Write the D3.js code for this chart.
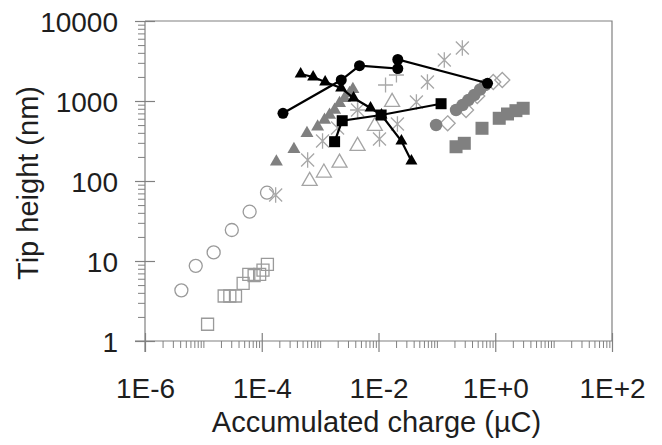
<!DOCTYPE html>
<html><head><meta charset="utf-8">
<script src="https://cdn.jsdelivr.net/npm/d3@7"></script>
<style>html,body{margin:0;padding:0;background:#fff;}svg{display:block;font-family:"Liberation Sans",Arial,sans-serif;}</style>
</head><body>
<svg id="chart" width="662" height="445"></svg>
<script>
// ---- data ----
const xTickValues = [1e-6, 1e-4, 1e-2, 1e0, 1e2];
const xTickLabels = ["1E-6", "1E-4", "1E-2", "1E+0", "1E+2"];
const yTickValues = [1, 10, 100, 1000, 10000];
const yTickLabels = ["1", "10", "100", "1000", "10000"];

const openCircleX = [4.2e-6, 7.4e-6, 1.5e-5, 3.07e-5, 6.2e-5, 1.23e-4];
const openCircleY = [4.3, 8.7, 12.8, 24.4, 41.3, 71.4];

const openSquareX = [1.18e-5, 2.27e-5, 2.84e-5, 3.55e-5, 4.8e-5, 6.0e-5, 7.4e-5, 9.2e-5, 1.05e-4, 1.25e-4];
const openSquareY = [1.62, 3.65, 3.65, 3.65, 5.26, 6.8, 6.55, 6.8, 7.7, 9.1];

const greyTriX = [1.78e-4, 3.56e-4, 5.95e-4, 9.06e-4, 1.19e-3, 1.45e-3, 1.77e-3, 2.15e-3, 2.62e-3, 3.19e-3, 3.64e-3];
const greyTriY = [174, 249, 395, 477, 579, 668, 772, 936, 1081, 1248, 1400];

const openTriX = [6.62e-4, 1.16e-3, 2.15e-3, 4.38e-3, 8.65e-3, 0.0171];
const openTriY = [100, 127, 169, 274, 487, 972];

const starX = [1.73e-4, 6.11e-4, 1.10e-3, 1.99e-3, 4.38e-3, 0.0104, 0.0211, 0.0446, 0.0689, 0.134, 0.273];
const starY = [66.8, 183, 316, 460, 772, 335, 516, 972, 1728, 3254, 4597];

const plusX = [4.38e-3, 0.0132, 0.0203];
const plusY = [772, 1585, 2113];

const greyCircleX = [0.0969, 0.213, 0.276, 0.348, 0.438, 0.55, 0.675];
const greyCircleY = [501, 772, 891, 1029, 1189, 1393, 1585];

const diamondX = [0.153, 0.316, 0.492, 0.925, 1.32];
const diamondY = [526, 772, 1155, 1728, 1830];

const greySquareX = [0.213, 0.295, 0.593, 1.17, 1.62, 2.26, 3.01];
const greySquareY = [268, 296, 456, 608, 688, 757, 811];

const blackCircleX = [2.31e-4, 2.30e-3, 4.73e-3, 0.0214, 0.0214, 0.738];
const blackCircleY = [702, 1830, 2763, 2547, 3303, 1664];

const blackTriX = [4.64e-4, 7.59e-4, 1.22e-3, 2.29e-3, 3.74e-3, 7.3e-3, 0.01125, 0.0247, 0.0366];
const blackTriY = [2175, 1995, 1728, 1454, 1090, 818, 668, 316, 178];

const blackSquareX = [1.77e-3, 2.39e-3, 0.0111, 0.118];
const blackSquareY = [310, 567, 668, 925];

// ---- layout ----
const svg = d3.select("#chart");
const pL = 145, pR = 612, pT = 21, pB = 341;
const x = d3.scaleLog().domain([1e-6, 1e2]).range([pL, pR]);
const y = d3.scaleLog().domain([1, 1e4]).range([pB, pT]);
const axisColor = "#808080";
const textColor = "#1e1e1e";

// frame (top & right)
svg.append("path")
  .attr("d", `M${pL},${pT}H${pR}V${pB}`)
  .attr("fill", "none").attr("stroke", axisColor).attr("stroke-width", 1.2);

// minor ticks
const xMinor = [];
for (let e = -6; e < 2; e++) for (let m = 1; m <= 9; m++) {
  const v = m * Math.pow(10, e);
  if (!(m === 1 && e % 2 === 0)) xMinor.push(v);
}
const yMinor = [];
for (let e = 0; e < 4; e++) for (let m = 2; m <= 9; m++) yMinor.push(m * Math.pow(10, e));

const gxMinor = svg.append("g").attr("transform", `translate(0,${pB})`)
  .call(d3.axisBottom(x).tickValues(xMinor).tickSize(7).tickFormat(""));
const gyMinor = svg.append("g").attr("transform", `translate(${pL},0)`)
  .call(d3.axisLeft(y).tickValues(yMinor).tickSize(7).tickFormat(""));
[gxMinor, gyMinor].forEach(g => {
  g.select(".domain").remove();
  g.selectAll("line").attr("stroke", axisColor).attr("stroke-width", 1);
});

// major axes
const gx = svg.append("g").attr("transform", `translate(0,${pB})`)
  .call(d3.axisBottom(x).tickValues(xTickValues).tickSizeInner(11).tickSizeOuter(0)
    .tickFormat((d, i) => xTickLabels[i]));
gx.select(".domain").attr("stroke", axisColor).attr("stroke-width", 1.2).attr("d", `M${pL-10},0H${pR}`);
gx.selectAll(".tick line").attr("stroke", axisColor).attr("stroke-width", 1.2).attr("y1", -8);
gx.selectAll(".tick text").attr("y", 57).attr("dy", "0").attr("fill", textColor)
  .style("font-size", "28px").style("font-family", "'Liberation Sans', Arial, sans-serif");

const gy = svg.append("g").attr("transform", `translate(${pL},0)`)
  .call(d3.axisLeft(y).tickValues(yTickValues).tickSizeInner(10).tickSizeOuter(0)
    .tickFormat((d, i) => yTickLabels[i]));
gy.select(".domain").attr("stroke", axisColor).attr("stroke-width", 1.2).attr("d", `M0,${pT}V${pB+11}`);
gy.selectAll(".tick line").attr("stroke", axisColor).attr("stroke-width", 1.2).attr("x1", 10);
gy.selectAll(".tick text").attr("x", -27).attr("dy", "0.36em").attr("fill", textColor)
  .style("font-size", "28px").style("font-family", "'Liberation Sans', Arial, sans-serif");

// axis titles
svg.append("text").attr("x", (pL + pR) / 2 - 2).attr("y", 432)
  .attr("text-anchor", "middle").attr("fill", textColor)
  .style("font-size", "29px").text("Accumulated charge (µC)");
svg.append("text").attr("transform", `translate(38,${(pT + pB) / 2 + 2}) rotate(-90)`)
  .attr("text-anchor", "middle").attr("fill", textColor)
  .style("font-size", "29px").text("Tip height (nm)");

// ---- symbols ----
const starSym = { draw(ctx, size) { const r = Math.sqrt(size) / 2;
  ctx.moveTo(-r, -r); ctx.lineTo(r, r); ctx.moveTo(-r, r); ctx.lineTo(r, -r);
  ctx.moveTo(0, -r * 1.2); ctx.lineTo(0, r * 1.2); } };
const plusSym = { draw(ctx, size) { const r = Math.sqrt(size) / 2;
  ctx.moveTo(-r, 0); ctx.lineTo(r, 0); ctx.moveTo(0, -r); ctx.lineTo(0, r); } };
const squareSym = { draw(ctx, size) { const r = Math.sqrt(size) / 2;
  ctx.rect(-r, -r, 2 * r, 2 * r); } };
const diamondSym = { draw(ctx, size) { const r = Math.sqrt(size) / 2;
  ctx.moveTo(0, -r); ctx.lineTo(r, 0); ctx.lineTo(0, r); ctx.lineTo(-r, 0); ctx.closePath(); } };
const triSym = { draw(ctx, size) { const s = Math.sqrt(size); const h = s * Math.sqrt(3) / 2;
  ctx.moveTo(0, -2 * h / 3); ctx.lineTo(s / 2, h / 3); ctx.lineTo(-s / 2, h / 3); ctx.closePath(); } };
const circSym = { draw(ctx, size) { const r = Math.sqrt(size) / 2;
  ctx.moveTo(r, 0); ctx.arc(0, 0, r, 0, 2 * Math.PI); } };

const zip = (xs, ys) => xs.map((v, i) => [v, ys[i]]);
const series = [
  { data: zip(openCircleX, openCircleY), sym: circSym, size: 13, fill: "none", stroke: "#9a9a9a", sw: 1.3 },
  { data: zip(openSquareX, openSquareY), sym: squareSym, size: 12, fill: "none", stroke: "#9a9a9a", sw: 1.3 },
  { data: zip(starX, starY), sym: starSym, size: 13, fill: "none", stroke: "#a8a8a8", sw: 1.3 },
  { data: zip(plusX, plusY), sym: plusSym, size: 15, fill: "none", stroke: "#a8a8a8", sw: 1.3 },
  { data: zip(openTriX, openTriY), sym: triSym, size: 15, fill: "none", stroke: "#a4a4a4", sw: 1.3 },
  { data: zip(greyTriX, greyTriY), sym: triSym, size: 13, fill: "#808080", stroke: "none", sw: 0 },
  { data: zip(diamondX, diamondY), sym: diamondSym, size: 15, fill: "none", stroke: "#a4a4a4", sw: 1.3 },
  { data: zip(greyCircleX, greyCircleY), sym: circSym, size: 12.5, fill: "#808080", stroke: "none", sw: 0 },
  { data: zip(greySquareX, greySquareY), sym: squareSym, size: 13, fill: "#808080", stroke: "none", sw: 0 },
  { data: zip(blackCircleX, blackCircleY), sym: circSym, size: 11, fill: "#000", stroke: "none", sw: 0, line: true },
  { data: zip(blackTriX, blackTriY), sym: triSym, size: 12, fill: "#000", stroke: "none", sw: 0, line: true },
  { data: zip(blackSquareX, blackSquareY), sym: squareSym, size: 11, fill: "#000", stroke: "none", sw: 0, line: true }
];

const lineGen = d3.line().x(d => x(d[0])).y(d => y(d[1]));
const plot = svg.append("g");
series.forEach(s => {
  if (s.line) {
    plot.append("path").attr("d", lineGen(s.data))
      .attr("fill", "none").attr("stroke", "#000").attr("stroke-width", 2.2);
  }
  const sym = d3.symbol().type(s.sym).size(s.size * s.size);
  plot.append("g").selectAll("path").data(s.data).join("path")
    .attr("transform", d => `translate(${x(d[0])},${y(d[1])})`)
    .attr("d", sym)
    .attr("fill", s.fill).attr("stroke", s.stroke).attr("stroke-width", s.sw);
});
</script>
</body></html>
